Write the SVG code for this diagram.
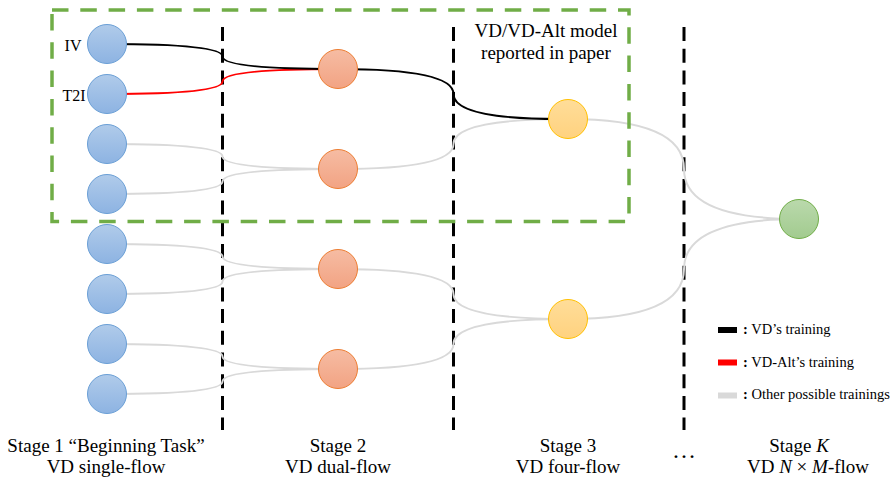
<svg xmlns="http://www.w3.org/2000/svg" width="896" height="477" viewBox="0 0 896 477">
<defs>
<linearGradient id="gBlue" x1="0" y1="0" x2="0" y2="1"><stop offset="0" stop-color="#B0CBEA"/><stop offset="1" stop-color="#8DB3E2"/></linearGradient>
<linearGradient id="gOrange" x1="0" y1="0" x2="0" y2="1"><stop offset="0" stop-color="#F6BCA3"/><stop offset="1" stop-color="#F2A383"/></linearGradient>
<linearGradient id="gYellow" x1="0" y1="0" x2="0" y2="1"><stop offset="0" stop-color="#FFDD99"/><stop offset="1" stop-color="#FFD27F"/></linearGradient>
<linearGradient id="gGreen" x1="0" y1="0" x2="0" y2="1"><stop offset="0" stop-color="#BAD9AC"/><stop offset="1" stop-color="#A2CB8F"/></linearGradient>
</defs>
<style>
.t{font-family:"Liberation Serif","Times New Roman",serif;fill:#000}
.big{font-size:19px}
.leg{font-size:14.5px}
.sep{stroke:#000;stroke-width:3;stroke-dasharray:14 7.7;fill:none}
.box{stroke:#70AD47;stroke-width:3.5;stroke-dasharray:16.5 11.8;fill:none}
.c{fill:none;stroke-width:2}
.grey{stroke:#D9D9D9}
.red{stroke:#FF0000}
.black{stroke:#000}
.n1{fill:url(#gBlue);stroke:#6A9FD6;stroke-width:1}
.n2{fill:url(#gOrange);stroke:#ED7D31;stroke-width:1}
.n3{fill:url(#gYellow);stroke:#FFC000;stroke-width:1}
.n4{fill:url(#gGreen);stroke:#70AD47;stroke-width:1}
</style>
<rect width="896" height="477" fill="#fff"/>
<g id="separators">
<line class="sep" x1="222.5" y1="27" x2="222.5" y2="430"/>
<line class="sep" x1="453.5" y1="27" x2="453.5" y2="430"/>
<line class="sep" x1="684" y1="27" x2="684" y2="430"/>
</g>
<g id="connectors">
<path class="c grey" d="M107,144 Q222.5,144 222.5,156.5 Q222.5,169 338,169"/>
<path class="c grey" d="M107,194 Q222.5,194 222.5,181.5 Q222.5,169 338,169"/>
<path class="c grey" d="M107,244 Q222.5,244 222.5,256.5 Q222.5,269 338,269"/>
<path class="c grey" d="M107,294 Q222.5,294 222.5,281.5 Q222.5,269 338,269"/>
<path class="c grey" d="M107,344 Q222.5,344 222.5,356.5 Q222.5,369 338,369"/>
<path class="c grey" d="M107,394 Q222.5,394 222.5,381.5 Q222.5,369 338,369"/>
<path class="c grey" d="M338,169 Q453.5,169 453.5,144 Q453.5,119 568,119"/>
<path class="c grey" d="M338,269 Q453.5,269 453.5,294 Q453.5,319 568,319"/>
<path class="c grey" d="M338,369 Q453.5,369 453.5,344 Q453.5,319 568,319"/>
<path class="c grey" d="M568,119 Q684,119 684,169 Q684,219 799,219"/>
<path class="c grey" d="M568,319 Q684,319 684,269 Q684,219 799,219"/>
<path class="c red" d="M107,94 Q222.5,94 222.5,81.5 Q222.5,69 338,69"/>
<path class="c black" d="M107,44 Q222.5,44 222.5,56.5 Q222.5,69 338,69"/>
<path class="c black" d="M338,69 Q453.5,69 453.5,94 Q453.5,119 560,119"/>
</g>
<rect id="paper-box" class="box" x="52" y="10" width="577" height="211.5"/>
<g id="s1n1"><circle class="n1" cx="107" cy="44" r="19.5"/></g>
<g id="s1n2"><circle class="n1" cx="107" cy="94" r="19.5"/></g>
<g id="s1n3"><circle class="n1" cx="107" cy="144" r="19.5"/></g>
<g id="s1n4"><circle class="n1" cx="107" cy="194" r="19.5"/></g>
<g id="s1n5"><circle class="n1" cx="107" cy="244" r="19.5"/></g>
<g id="s1n6"><circle class="n1" cx="107" cy="294" r="19.5"/></g>
<g id="s1n7"><circle class="n1" cx="107" cy="344" r="19.5"/></g>
<g id="s1n8"><circle class="n1" cx="107" cy="394" r="19.5"/></g>
<g id="s2n1"><circle class="n2" cx="338" cy="69" r="19.5"/></g>
<g id="s2n2"><circle class="n2" cx="338" cy="169" r="19.5"/></g>
<g id="s2n3"><circle class="n2" cx="338" cy="269" r="19.5"/></g>
<g id="s2n4"><circle class="n2" cx="338" cy="369" r="19.5"/></g>
<g id="s3n1"><circle class="n3" cx="568" cy="119" r="19.5"/></g>
<g id="s3n2"><circle class="n3" cx="568" cy="319" r="19.5"/></g>
<g id="sKn1"><circle class="n4" cx="799" cy="219" r="19.5"/></g>
<g id="labels">
<text class="t" font-size="16" x="73" y="51" text-anchor="middle">IV</text>
<text class="t" font-size="16" x="74" y="101" text-anchor="middle">T2I</text>
<text class="t big" x="546" y="37" text-anchor="middle">VD/VD-Alt model</text>
<text class="t big" x="546" y="59" text-anchor="middle">reported in paper</text>
</g>
<g id="legend">
<rect x="718" y="327" width="19" height="6" fill="#000"/>
<text class="t leg" x="743" y="334"><tspan font-weight="bold">:</tspan> VD’s training</text>
<rect x="718" y="359.5" width="19" height="6" fill="#FF0000"/>
<text class="t leg" x="743" y="366.5"><tspan font-weight="bold">:</tspan> VD-Alt’s training</text>
<rect x="718" y="392.5" width="19" height="6" fill="#D9D9D9"/>
<text class="t leg" x="743" y="399"><tspan font-weight="bold">:</tspan> Other possible trainings</text>
</g>
<g id="stage-labels">
<text class="t big" x="106" y="452" text-anchor="middle">Stage 1 “Beginning Task”</text>
<text class="t big" x="106" y="473" text-anchor="middle">VD single-flow</text>
<text class="t big" x="338" y="452" text-anchor="middle">Stage 2</text>
<text class="t big" x="338" y="473" text-anchor="middle">VD dual-flow</text>
<text class="t big" x="568" y="452" text-anchor="middle">Stage 3</text>
<text class="t big" x="568" y="473" text-anchor="middle">VD four-flow</text>
<text class="t" font-size="24" x="684" y="458" text-anchor="middle">…</text>
<text class="t big" x="799" y="452" text-anchor="middle">Stage <tspan font-style="italic">K</tspan></text>
<text class="t big" x="808" y="473" text-anchor="middle">VD <tspan font-style="italic">N</tspan> × <tspan font-style="italic">M</tspan>-flow</text>
</g>
</svg>
